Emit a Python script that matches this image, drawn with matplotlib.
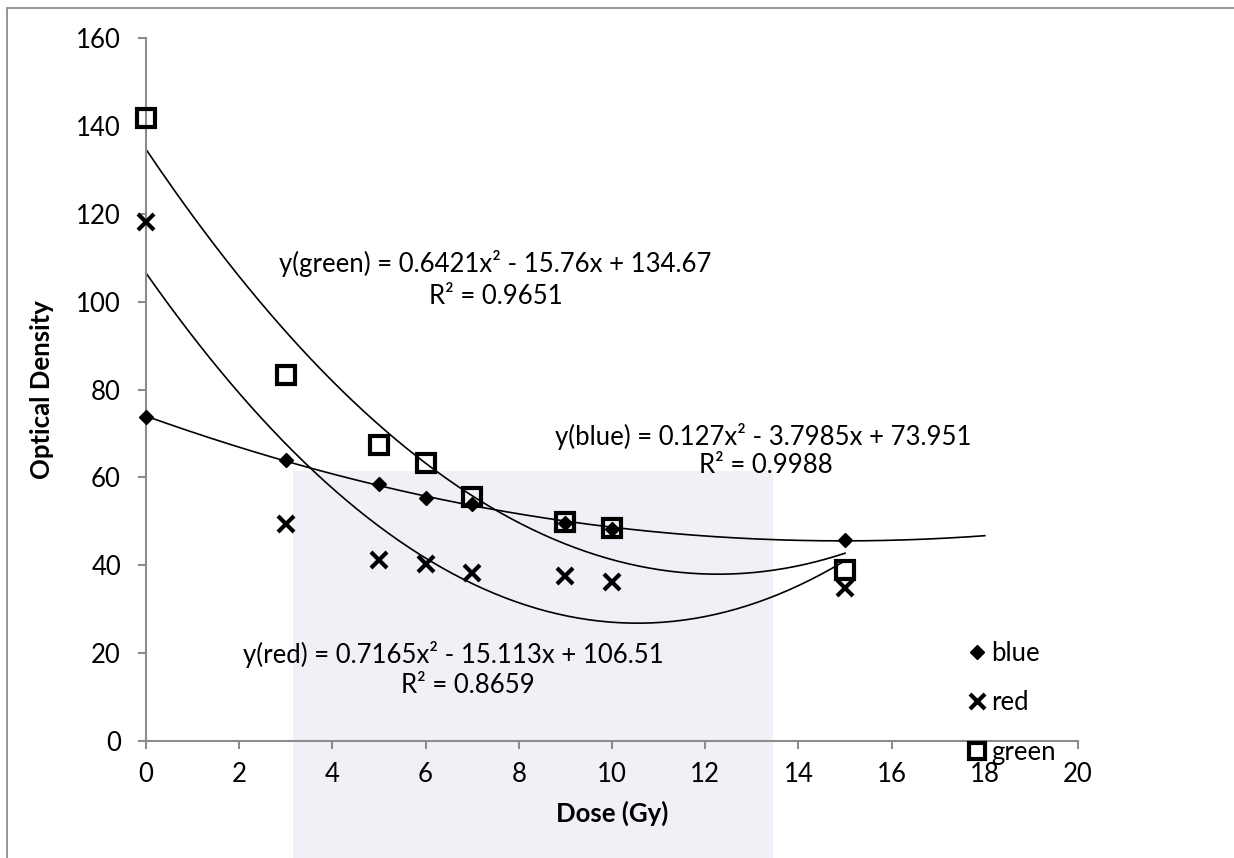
import numpy as np  # Arrays
import matplotlib
matplotlib.use("Agg")
import matplotlib.pyplot as plt  # Plots
from matplotlib.patches import Rectangle

# Data
dose = [0, 3, 5, 6, 7, 9, 10, 15]
blue = [73.8, 63.9, 58.4, 55.4, 54.0, 49.7, 48.3, 45.7]
red = [118.1, 49.5, 41.2, 40.2, 38.3, 37.5, 36.3, 34.8]
green = [141.8, 83.3, 67.3, 63.3, 55.5, 49.8, 48.5, 38.9]

# Trendline coefficients shown on the chart (x^2, x, const)
blueFit = [0.127, -3.7985, 73.951]
redFit = [0.7165, -15.113, 106.51]
greenFit = [0.6421, -15.76, 134.67]

# How far each trendline is drawn
blueEnd = 18
redEnd = 15
greenEnd = 15

xTicks = [0, 2, 4, 6, 8, 10, 12, 14, 16, 18, 20]
yTicks = [0, 20, 40, 60, 80, 100, 120, 140, 160]

plt.rcParams['font.family'] = ['Lato', 'DejaVu Sans']
fs = 18.5

fig = plt.figure(figsize=(12.34, 8.58), dpi=100)
fig.patch.set_facecolor('white')

# Faint watermark block behind the plot
fig.patches.append(Rectangle((293 / 1234, 0), (773 - 293) / 1234, 1 - 471 / 858,
                             transform=fig.transFigure, facecolor='#f0f0f6',
                             edgecolor='none', zorder=0))

# Outer chart border
fig.patches.append(Rectangle((7 / 1234, -0.1), 1.2, 1.1 - 8 / 858,
                             transform=fig.transFigure, facecolor='none',
                             edgecolor='#8c8c8c', linewidth=1.3, zorder=1))

ax = fig.add_axes([146 / 1234, 1 - 741 / 858, (1078 - 146) / 1234, (741 - 38) / 858])
ax.set_facecolor('none')
ax.set_zorder(2)

# Trendlines
for fit, end in [(blueFit, blueEnd), (redFit, redEnd), (greenFit, greenEnd)]:
    xs = np.linspace(0, end, 200)
    ax.plot(xs, np.polyval(fit, xs), color='black', linewidth=1.2, zorder=2, clip_on=False)

# Points
ax.plot(dose, blue, linestyle='none', marker='D', markersize=7.5, color='black',
        label='blue', zorder=3, clip_on=False)
ax.plot(dose, red, linestyle='none', marker='x', markersize=12, markeredgewidth=3,
        color='black', label='red', zorder=3, clip_on=False)
ax.plot(dose, green, linestyle='none', marker='s', markersize=13, markeredgewidth=3,
        markerfacecolor='none', markeredgecolor='black', label='green', zorder=3, clip_on=False)

# Axes styling
ax.set_xlim(0, 20)
ax.set_ylim(0, 160)
ax.set_xticks(xTicks)
ax.set_yticks(yTicks)
for side in ['top', 'right']:
    ax.spines[side].set_visible(False)
for side in ['left', 'bottom']:
    ax.spines[side].set_color('#8c8c8c')
    ax.spines[side].set_linewidth(1.5)
ax.tick_params(axis='both', colors='#8c8c8c', length=6, width=1.5, labelsize=fs,
               labelcolor='black')
ax.tick_params(axis='y', pad=12)
ax.tick_params(axis='x', pad=9)

ax.set_xlabel('Dose (Gy)', fontsize=fs, fontweight='bold', labelpad=10)
ax.set_ylabel('Optical Density', fontsize=fs, fontweight='bold', labelpad=16)

# Trendline equations
txt = dict(fontsize=fs, ha='center', va='center', color='black')
ax.text(7.5, 108.6, 'y(green) = 0.6421x² - 15.76x + 134.67', **txt)
ax.text(7.5, 101.1, 'R² = 0.9651', **txt)
ax.text(13.24, 69.4, 'y(blue) = 0.127x² - 3.7985x + 73.951', **txt)
ax.text(13.3, 62.6, 'R² = 0.9988', **txt)
ax.text(6.6, 19.7, 'y(red) = 0.7165x² - 15.113x + 106.51', **txt)
ax.text(6.9, 12.6, 'R² = 0.8659', **txt)

# Legend on the right
ax.legend(loc='upper left', bbox_to_anchor=(954 / 1234, 1 - 628 / 858),
          bbox_transform=fig.transFigure, frameon=False, fontsize=fs,
          handlelength=0.8, handletextpad=0.15, labelspacing=0.95, borderpad=0,
          markerscale=0.9)

plt.savefig('out.png', dpi=100)
